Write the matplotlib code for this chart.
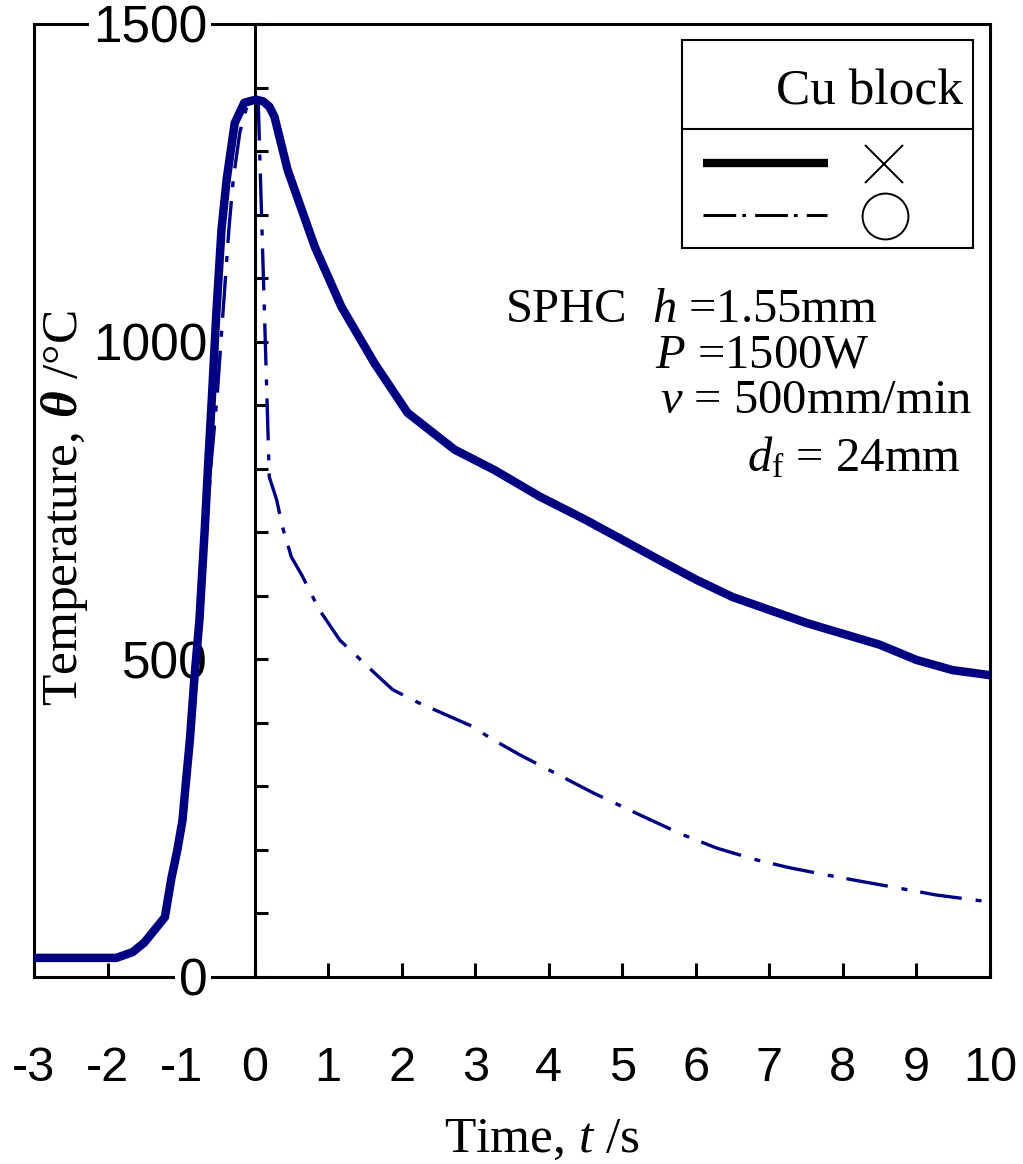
import numpy as np
import matplotlib
matplotlib.use('Agg')
import matplotlib.pyplot as plt
from matplotlib.patches import Rectangle
from matplotlib.ticker import MultipleLocator

plt.rcParams['font.family'] = 'Liberation Sans'
plt.rcParams['mathtext.fontset'] = 'custom'
plt.rcParams['mathtext.rm'] = 'Liberation Serif'
plt.rcParams['mathtext.it'] = 'Liberation Serif:italic'
plt.rcParams['mathtext.bf'] = 'Liberation Serif:bold:italic'

# thick solid curve (x marker case)
t_solid = [-3, -1.88, -1.66, -1.5, -1.22, -1.13, -1.05, -0.98, -0.95, -0.88, -0.82,
           -0.75, -0.68, -0.63, -0.58, -0.52, -0.45, -0.38, -0.27, -0.14, 0.02, 0.12,
           0.2, 0.27, 0.45, 0.82, 1.18, 1.63, 2.08, 2.72, 3.26, 3.88, 4.51, 5.51,
           6.01, 6.5, 7.51, 8.5, 9.0, 9.49, 10]
T_solid = [30, 30, 39, 54, 94, 156, 200, 247, 286, 373, 468,
           562, 700, 810, 913, 1045, 1176, 1255, 1344, 1376, 1381, 1378,
           1370, 1354, 1270, 1149, 1055, 966, 888, 830, 798, 756, 719, 656,
           625, 598, 557, 523, 499, 483, 475]

# thin dash-dot curve (o marker case)
t_dd = [-3, -1.88, -1.66, -1.5, -1.22, -1.13, -1.05, -0.98, -0.95, -0.88, -0.82,
        -0.75, -0.66, -0.59, -0.51, -0.43, -0.35, -0.29, -0.2, -0.1, 0.0, 0.05,
        0.2, 0.3, 0.38, 0.5, 0.64, 0.88, 1.16, 1.7, 1.88, 2.24, 2.95, 3.22, 3.6,
        4.0, 4.6, 5.24, 5.8, 6.28, 6.8, 7.27, 7.8, 8.27, 8.8, 9.27, 9.6, 10]
T_dd = [30, 30, 39, 54, 94, 156, 200, 247, 286, 373, 468,
        562, 700, 810, 913, 1045, 1176, 1255, 1330, 1372, 1382, 1375,
        787, 751, 708, 661, 633, 578, 530, 471, 452, 431, 395, 375, 350,
        326, 290, 255, 225, 203, 185, 172, 160, 150, 139, 129, 124, 118]

xticks = list(range(-3, 11))
yticks = [0, 500, 1000, 1500]

navy = '#000080'
serif = 'Liberation Serif'

fig = plt.figure(figsize=(10.23, 11.64), dpi=100)
ax = fig.add_axes([0.0332, 0.1607, 0.9345, 0.8187])

ax.plot(t_solid, T_solid, color=navy, lw=6.1, zorder=4, solid_joinstyle='round')
ax.plot(t_dd, T_dd, color=navy, lw=2.4, zorder=4, dashes=(12.6, 4.2, 1.8, 3.9),
        dash_capstyle='butt')

ax.set_xlim(-3, 10)
ax.set_ylim(0, 1500)

ax.spines['left'].set_position(('data', 0))
for s in ax.spines.values():
    s.set_linewidth(2.2)
ax.axvline(-3, color='k', lw=2.2, clip_on=False, zorder=2.5)

ax.set_xticks(xticks)
ax.set_xticklabels([str(v) for v in xticks])
ax.set_yticks(yticks)
ax.set_yticklabels([str(v) for v in yticks])
ax.yaxis.set_minor_locator(MultipleLocator(100))
ax.tick_params(axis='x', direction='in', length=10, width=2.2, pad=50, labelsize=35,
               top=False)
ax.tick_params(axis='y', which='both', direction='in', length=9.5, width=2.2, pad=34,
               labelsize=37, right=False)
ax.yaxis.set_zorder(3)
for lbl in ax.get_yticklabels():
    lbl.set_bbox(dict(facecolor='white', edgecolor='none', pad=3))

# legend box
ax.add_patch(Rectangle((0.678, 0.765), 0.304, 0.218, transform=ax.transAxes,
                       fill=False, ec='k', lw=1.5, zorder=5))
ax.plot([0.678, 0.982], [0.890, 0.890], transform=ax.transAxes, color='k', lw=1.5, zorder=5)
ax.text(0.972, 0.915, 'Cu block', transform=ax.transAxes, ha='right', va='baseline',
        family=serif, size=37, zorder=5)
ax.plot([0.700, 0.831], [0.854, 0.854], transform=ax.transAxes, color='k', lw=6,
        solid_capstyle='butt', zorder=5)
ax.plot([0.700, 0.830], [0.800, 0.800], transform=ax.transAxes, color='k', lw=2.2,
        dashes=(10.7, 2.0, 1.2, 3.0), dash_capstyle='butt', zorder=5)
ax.plot([0.889], [0.853], transform=ax.transAxes, marker='x', ms=27, mew=1.4,
        color='k', zorder=5)
ax.plot([0.890], [0.799], transform=ax.transAxes, marker='o', ms=33, mew=1.4,
        mfc='none', mec='k', zorder=5)

# conditions
ax.text(0.493, 0.687, 'SPHC', transform=ax.transAxes, family=serif, size=35, va='baseline')
ax.text(0.647, 0.687, '$h$ =1.55mm', transform=ax.transAxes, family=serif, size=35, va='baseline')
ax.text(0.650, 0.639, '$P$ =1500W', transform=ax.transAxes, family=serif, size=35, va='baseline')
ax.text(0.655, 0.592, '$v$ = 500mm/min', transform=ax.transAxes, family=serif, size=35, va='baseline')
ax.text(0.746, 0.531, '$d_{\\mathrm{f}}$ = 24mm', transform=ax.transAxes, family=serif, size=35, va='baseline')

fig.text(0.0626, 0.5636, 'Temperature, $\\mathbf{\\theta}$ /°C', rotation=90,
         ha='center', va='center', family=serif, size=37)
fig.text(0.530, 0.0103, 'Time, $t$ /s', ha='center', va='baseline', family=serif, size=37)

fig.savefig('out.png', dpi=100)
